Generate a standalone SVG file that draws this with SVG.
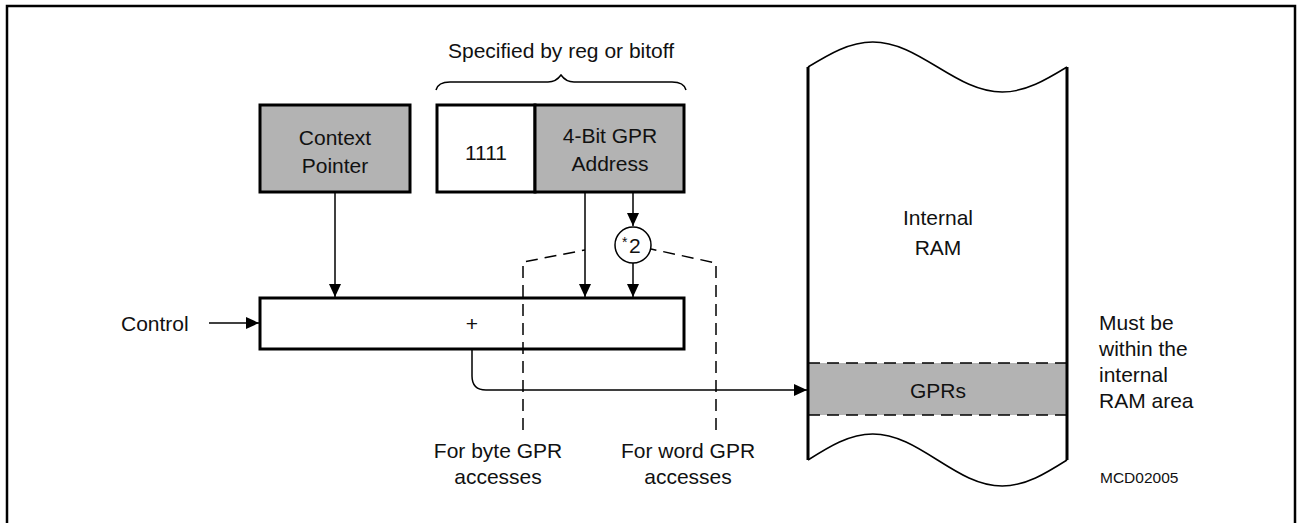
<svg xmlns="http://www.w3.org/2000/svg" width="1297" height="523" viewBox="0 0 1297 523">
<style>
text{font-family:"Liberation Sans",Arial,sans-serif;font-size:21px;fill:#111}
.box{stroke:#000;stroke-width:3;fill:#fff}
.grey{fill:#b3b3b3}
.ln{stroke:#000;stroke-width:1.5;fill:none}
.dash{stroke:#000;stroke-width:1.5;fill:none;stroke-dasharray:12,7}
.mid{text-anchor:middle}
</style>
<defs>
<marker id="ah" markerUnits="userSpaceOnUse" markerWidth="14" markerHeight="12" refX="13" refY="6" orient="auto">
<path d="M0,0 L13,6 L0,12 Z" fill="#000"/>
</marker>
</defs>
<rect x="7" y="6" width="1288" height="520" fill="none" stroke="#000" stroke-width="2.5"/>

<g id="brace">
<text class="mid" x="561" y="58">Specified by reg or bitoff</text>
<path class="ln" d="M436,90 Q438,82 450,82 L548,82 Q556,82 561,75 Q566,82 574,82 L672,82 Q684,82 686,90"/>
</g>

<g id="context-pointer">
<rect class="box grey" x="260" y="105" width="150" height="87"/>
<text class="mid" x="335" y="145">Context</text>
<text class="mid" x="335" y="173">Pointer</text>
</g>

<g id="gpr-register">
<rect class="box" x="437" y="105" width="98" height="87"/>
<rect class="box grey" x="535" y="105" width="149" height="87"/>
<text class="mid" x="486" y="160">1111</text>
<text class="mid" x="610" y="143">4-Bit GPR</text>
<text class="mid" x="610" y="171">Address</text>
</g>

<g id="multiplier">
<circle cx="633" cy="245" r="18" fill="#fff" stroke="#000" stroke-width="1.5"/>
<text x="622" y="247" style="font-size:14px">*</text>
<text x="629" y="253">2</text>
</g>

<g id="adder">
<rect class="box" x="260" y="298" width="424" height="51"/>
<text class="mid" x="472" y="331">+</text>
</g>

<g id="control">
<text x="121" y="331">Control</text>
</g>

<g id="internal-ram">
<rect class="grey" x="808" y="363" width="259" height="52"/>
<path class="ln" stroke-dasharray="12,7" d="M808,363 H1067 M808,415 H1067"/>
<path class="ln" d="M808,67 C829.1,54.2 849.3,42 872.75,42 C896.2,42 916.4,54.2 937.5,67 C958.6,79.8 978.8,92 1002.25,92 C1025.7,92 1045.9,79.8 1067,67"/>
<path class="ln" d="M808,460 C829.1,446.7 849.3,434 872.75,434 C896.2,434 916.4,446.7 937.5,460 C958.6,473.3 978.8,486 1002.25,486 C1025.7,486 1045.9,473.3 1067,460"/>
<path d="M808,67 V460 M1067,67 V460" stroke="#000" stroke-width="3" fill="none"/>
<text class="mid" x="938" y="225">Internal</text>
<text class="mid" x="938" y="255">RAM</text>
<text class="mid" x="938" y="398">GPRs</text>
</g>

<g id="notes">
<text x="1099" y="330">Must be</text>
<text x="1099" y="356">within the</text>
<text x="1099" y="382">internal</text>
<text x="1099" y="408">RAM area</text>
<text x="1100" y="483" style="font-size:15.5px">MCD02005</text>
<text class="mid" x="498" y="458">For byte GPR</text>
<text class="mid" x="498" y="484">accesses</text>
<text class="mid" x="688" y="458">For word GPR</text>
<text class="mid" x="688" y="484">accesses</text>
</g>

<g id="connectors">
<line class="ln" x1="335" y1="192" x2="335" y2="297" marker-end="url(#ah)"/>
<line class="ln" x1="585" y1="192" x2="585" y2="297" marker-end="url(#ah)"/>
<line class="ln" x1="633" y1="192" x2="633" y2="226" marker-end="url(#ah)"/>
<line class="ln" x1="633" y1="263" x2="633" y2="297" marker-end="url(#ah)"/>
<line class="ln" x1="209" y1="323" x2="259" y2="323" marker-end="url(#ah)"/>
<path class="ln" d="M472,349 V376 Q472,390 486,390 H807" marker-end="url(#ah)"/>
<path class="dash" d="M523,430 V262 L585,250"/>
<path class="dash" d="M716,430 V263 L651,249"/>
</g>
</svg>
